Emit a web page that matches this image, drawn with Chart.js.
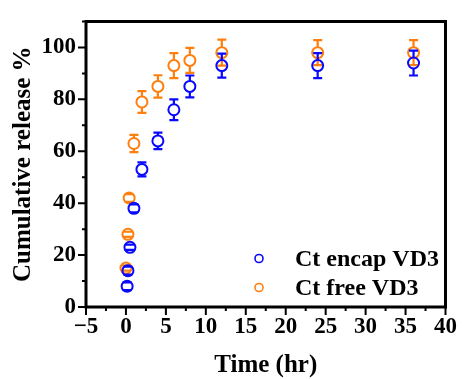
<!DOCTYPE html>
<html>
<head>
<meta charset="utf-8">
<script src="https://cdn.jsdelivr.net/npm/chart.js@4.4.0/dist/chart.umd.min.js"></script>
<style>
  html, body { margin: 0; padding: 0; background: #fff; }
</style>
</head>
<body>
<canvas id="myChart" width="466" height="379"></canvas>
<script>
// release data (time in hr, cumulative release %, error = +/-)
const encapTime = [0.15, 0.25, 0.5, 1, 2, 4, 6, 8, 12, 24, 36];
const encapRelease = [8, 14, 23, 38, 53, 64, 76, 85, 93, 93, 94];
const encapErr = [1.5, 1.5, 1, 1.5, 2.7, 3.2, 4, 4.2, 4.6, 4.8, 4.8];

const freeTime = [0, 0.25, 0.4, 1, 2, 4, 6, 8, 12, 24, 36];
const freeRelease = [15, 28, 42, 63, 79, 85, 93, 95, 98, 98, 98];
const freeErr = [1, 1, 1.5, 3.3, 4.2, 4.3, 4.8, 4.8, 5, 4.8, 4.8];

const xTicks = [-5, 0, 5, 10, 15, 20, 25, 30, 35, 40];
const yTicks = [0, 20, 40, 60, 80, 100];

const BLUE = '#0808ff';
const ORANGE = '#ff7f0e';
const FONT = 'Liberation Serif, Times New Roman, serif';

function toPoints(xs, ys, es) {
  return xs.map((x, i) => ({ x: x, y: ys[i], err: es[i] }));
}

// error bars that stop at the edge of the hollow marker
const errorBars = {
  id: 'errorBars',
  afterDatasetDraw(chart, args) {
    const ds = chart.data.datasets[args.index];
    const meta = args.meta;
    const ys = chart.scales.y;
    const c = chart.ctx;
    const r = ds.pointRadius;
    c.save();
    c.strokeStyle = ds.borderColor;
    c.lineWidth = 2.2;
    meta.data.forEach((el, i) => {
      const p = ds.data[i];
      const top = ys.getPixelForValue(p.y + p.err);
      const bot = ys.getPixelForValue(p.y - p.err);
      const x = el.x, y = el.y;
      c.beginPath();
      if (top < y - r) { c.moveTo(x, top); c.lineTo(x, y - r); }
      if (bot > y + r) { c.moveTo(x, y + r); c.lineTo(x, bot); }
      c.moveTo(x - 4.5, top); c.lineTo(x + 4.5, top);
      c.moveTo(x - 4.5, bot); c.lineTo(x + 4.5, bot);
      c.stroke();
    });
    c.restore();
  }
};

// box frame, major + minor ticks, legend
const frame = {
  id: 'frame',
  afterDraw(chart) {
    const c = chart.ctx;
    const a = chart.chartArea;
    const xs = chart.scales.x, ys = chart.scales.y;
    c.save();
    c.strokeStyle = '#000';
    c.lineWidth = 2;
    c.beginPath();
    xTicks.forEach((v, i) => {
      const px = xs.getPixelForValue(v);
      c.moveTo(px, a.bottom); c.lineTo(px, a.bottom + 8);
      if (i < xTicks.length - 1) {
        const mx = xs.getPixelForValue(v + 2.5);
        c.moveTo(mx, a.bottom); c.lineTo(mx, a.bottom + 4);
      }
    });
    yTicks.forEach(v => {
      const py = ys.getPixelForValue(v);
      c.moveTo(a.left, py); c.lineTo(a.left - 8, py);
      const my = ys.getPixelForValue(v + 10);
      c.moveTo(a.left, my); c.lineTo(a.left - 4, my);
    });
    c.stroke();
    c.lineWidth = 3;
    c.strokeRect(a.left, a.top, a.right - a.left, a.bottom - a.top);

    // legend
    c.font = 'bold 24px ' + FONT;
    c.textBaseline = 'middle';
    c.textAlign = 'left';
    chart.data.datasets.forEach((ds, i) => {
      const ly = a.top + 237 + i * 29;
      c.beginPath();
      c.arc(a.left + 173, ly, 4, 0, Math.PI * 2);
      c.strokeStyle = ds.borderColor;
      c.lineWidth = 1.6;
      c.stroke();
      c.fillStyle = '#000';
      c.fillText(ds.label, a.left + 209, ly + 1);
    });
    c.restore();
  }
};

const ctx = document.getElementById('myChart');
const myChart = new Chart(ctx, {
  type: 'scatter',
  data: {
    datasets: [{
      label: 'Ct encap VD3',
      data: toPoints(encapTime, encapRelease, encapErr),
      borderColor: BLUE,
      backgroundColor: 'rgba(0,0,0,0)',
      pointRadius: 5.5,
      pointBorderWidth: 2
    }, {
      label: 'Ct free VD3',
      data: toPoints(freeTime, freeRelease, freeErr),
      borderColor: ORANGE,
      backgroundColor: 'rgba(0,0,0,0)',
      pointRadius: 5.5,
      pointBorderWidth: 2
    }]
  },
  options: {
    responsive: false,
    animation: false,
    devicePixelRatio: 1,
    layout: { padding: { top: 11, right: 12, left: 0, bottom: 0 } },
    plugins: {
      legend: { display: false },
      tooltip: { enabled: false }
    },
    scales: {
      x: {
        type: 'linear',
        min: -5,
        max: 40,
        afterFit: s => { s.height = 72; },
        afterBuildTicks: s => { s.ticks = xTicks.map(v => ({ value: v })); },
        grid: { display: false, drawTicks: false },
        border: { display: false },
        ticks: {
          padding: 9,
          color: '#000',
          maxRotation: 0,
          font: { family: FONT, size: 23, weight: 'bold', lineHeight: 1 },
          callback: v => (v < 0 ? '\u2212' + Math.abs(v) : v)
        },
        title: {
          display: true,
          text: 'Time (hr)',
          color: '#000',
          padding: { top: 0, bottom: 1 },
          font: { family: FONT, size: 25, weight: 'bold', lineHeight: 1 }
        }
      },
      y: {
        min: 0,
        max: 110,
        afterFit: s => { s.width = 86; },
        afterBuildTicks: s => { s.ticks = yTicks.map(v => ({ value: v })); },
        grid: { display: false, drawTicks: false },
        border: { display: false },
        ticks: {
          padding: 10,
          color: '#000',
          font: { family: FONT, size: 23, weight: 'bold', lineHeight: 1 }
        },
        title: {
          display: true,
          text: 'Cumulative release %',
          color: '#000',
          padding: { top: 11, bottom: 0 },
          font: { family: FONT, size: 25, weight: 'bold', lineHeight: 1 }
        }
      }
    }
  },
  plugins: [errorBars, frame]
});
</script>
</body>
</html>
